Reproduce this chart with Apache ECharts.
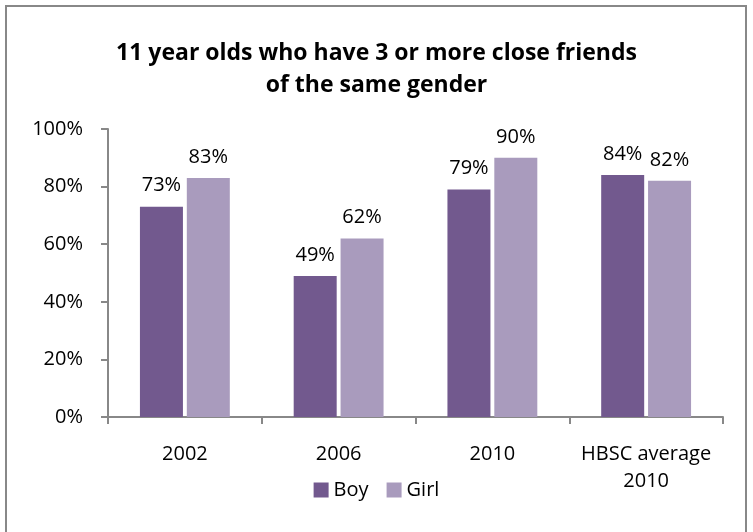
<!DOCTYPE html>
<html>
<head>
<meta charset="utf-8">
<script src="https://cdn.jsdelivr.net/npm/echarts@6/dist/echarts.min.js"></script>
<style>
  html, body { margin: 0; padding: 0; background: #fff; }
  #frame { position: absolute; left: 5px; top: 5px; width: 742px; height: 530px; border: 2px solid #888; box-sizing: border-box; border-bottom: none; }
  #chart { width: 753px; height: 532px; }
</style>
</head>
<body>
<div id="frame"></div>
<div id="chart"></div>
<script>
const categories = ['2002', '2006', '2010', 'HBSC average\n2010'];
const boyValues = [73, 49, 79, 84];
const girlValues = [83, 62, 90, 82];
const yTicks = [0, 20, 40, 60, 80, 100];

const FONT = '"Open Sans", Lato, sans-serif';
const chart = echarts.init(document.getElementById('chart'));

const labelStyle = {
  show: true,
  position: 'top',
  distance: 11,
  formatter: p => p.value + '%',
  fontFamily: FONT,
  fontSize: 20,
  color: '#000'
};

chart.setOption({
  animation: false,
  title: {
    text: '11 year olds who have 3 or more close friends\nof the same gender',
    left: 'center',
    top: 32,
    textStyle: { fontFamily: FONT, fontWeight: 'bold', fontSize: 23, lineHeight: 32, color: '#000' }
  },
  legend: {
    bottom: 27,
    left: 'center',
    itemWidth: 15,
    itemHeight: 15,
    itemGap: 18,
    icon: 'rect',
    textStyle: { fontFamily: FONT, fontSize: 20, color: '#000' },
    data: ['Boy', 'Girl']
  },
  grid: { left: 108, right: 30, top: 129, bottom: 115 },
  xAxis: {
    type: 'category',
    data: categories,
    axisLine: { lineStyle: { color: '#888', width: 2 } },
    axisTick: { show: true, length: 7, lineStyle: { color: '#888', width: 2 } },
    axisLabel: { interval: 0, fontFamily: FONT, fontSize: 20, color: '#000', margin: 24, lineHeight: 27 }
  },
  yAxis: {
    type: 'value',
    min: 0,
    max: 100,
    interval: 20,
    axisLine: { show: true, lineStyle: { color: '#888', width: 2 } },
    axisTick: { show: true, length: 7, lineStyle: { color: '#888', width: 2 } },
    splitLine: { show: false },
    axisLabel: {
      fontFamily: FONT, fontSize: 20, color: '#000', margin: 25,
      formatter: v => yTicks.includes(v) ? v + '%' : ''
    }
  },
  series: [
    {
      name: 'Boy', type: 'bar', data: boyValues,
      barWidth: 43, barGap: '9%',
      itemStyle: { color: '#72598E' },
      label: labelStyle
    },
    {
      name: 'Girl', type: 'bar', data: girlValues,
      barWidth: 43, barGap: '9%',
      itemStyle: { color: '#A99BBD' },
      label: labelStyle
    }
  ]
});
</script>
</body>
</html>
